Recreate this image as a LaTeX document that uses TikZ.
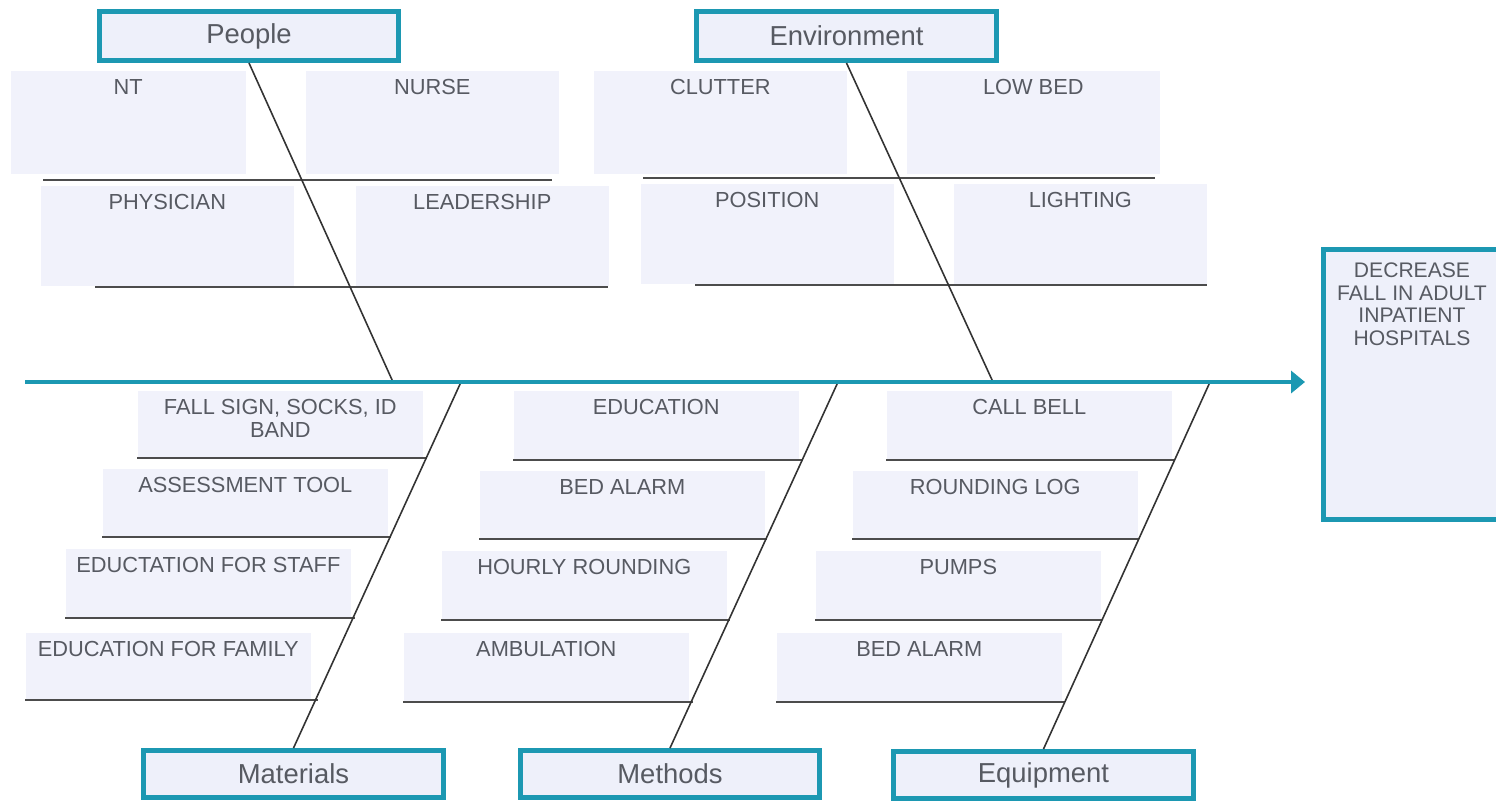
\documentclass[tikz,border=0pt]{standalone}
\usepackage{fontspec}
\setmainfont{Liberation Sans}
\usetikzlibrary{arrows.meta}

\definecolor{fishteal}{HTML}{1C98B2}
\definecolor{boxfill}{HTML}{EEF0FA}
\definecolor{labelgray}{HTML}{575A62}

\tikzset{
  cause/.style={draw=fishteal, line width=1.4pt, fill=boxfill, inner sep=0pt,
    minimum width=2.99cm, minimum height=0.49cm, text=labelgray,
    font=\fontsize{7.8}{9}\selectfont},
  topitem/.style={fill=boxfill!85, anchor=north west, inner sep=0pt,
    minimum width=2.53cm, minimum height=1.03cm},
  lowitem/.style={fill=boxfill!85, anchor=north west, inner sep=0pt,
    minimum width=2.85cm, minimum height=0.67cm},
  itemtext/.style={anchor=north, yshift=-0.09cm, inner sep=0pt, align=center,
    text=labelgray, font=\fontsize{6.2}{6.55}\selectfont},
  bone/.style={draw=black!80, line width=0.45pt},
  rib/.style={draw=black!70, line width=0.75pt},
  spine/.style={draw=fishteal, line width=1.1pt,
    -{Triangle[length=0.14cm,width=0.22cm]}}
}

\begin{document}
\begin{tikzpicture}[x=0.01cm, y=-0.01cm]
  \useasboundingbox[fill=white] (0,0) rectangle (1496,802);

  % head of the fish, open towards the right edge
  \node[fill=boxfill, minimum width=1.9cm, minimum height=2.68cm, inner sep=0pt]
    (effect) at (1419.5,384.5) {};
  \draw[fishteal, line width=1.4pt, line join=miter]
    (effect.north east) -- (effect.north west) -- (effect.south west) -- (effect.south east);
  \node[itemtext, yshift=-0.03cm, xshift=-0.075cm, font=\fontsize{6}{6.5}\selectfont]
    (effecttxt) at (effect.north) {DECREASE\\FALL IN ADULT\\INPATIENT\\HOSPITALS};

  % main categories
  \node[cause] (people) at (249,36) {People};
  \node[cause] (environment) at (846.5,36) {Environment};
  \node[cause, minimum height=0.47cm] (materials) at (293.5,774) {Materials};
  \node[cause, minimum height=0.47cm] (methods) at (670,774) {Methods};
  \node[cause, minimum height=0.47cm] (equipment) at (1043.5,775) {Equipment};

  % spine points
  \coordinate (tail) at (25,382);
  \coordinate (head) at (1305,382);
  \coordinate (s1) at (393,382);
  \coordinate (s2) at (993,382);
  \coordinate (s3) at (461,382);
  \coordinate (s4) at (838,382);
  \coordinate (s5) at (1210,382);

  % people
  \node[topitem, minimum width=2.35cm] (nt) at (10,70) {};
  \node[itemtext] at (nt.north) {NT};
  \node[topitem] (nurse) at (305,70) {};
  \node[itemtext] at (nurse.north) {NURSE};
  \node[topitem, minimum height=1cm] (physician) at (40,185) {};
  \node[itemtext] at (physician.north) {PHYSICIAN};
  \node[topitem, minimum height=1cm] (leadership) at (355,185) {};
  \node[itemtext] at (leadership.north) {LEADERSHIP};

  % environment
  \node[topitem] (clutter) at (593,70) {};
  \node[itemtext] at (clutter.north) {CLUTTER};
  \node[topitem] (lowbed) at (906,70) {};
  \node[itemtext] at (lowbed.north) {LOW BED};
  \node[topitem, minimum height=1cm] (position) at (640,183) {};
  \node[itemtext] at (position.north) {POSITION};
  \node[topitem, minimum height=1cm] (lighting) at (953,183) {};
  \node[itemtext] at (lighting.north) {LIGHTING};

  % materials
  \node[lowitem, minimum height=0.66cm] (fallsign) at (137,390) {};
  \node[itemtext] at (fallsign.north) {FALL SIGN, SOCKS, ID\\BAND};
  \node[lowitem] (assess) at (102,468) {};
  \node[itemtext] at (assess.north) {ASSESSMENT TOOL};
  \node[lowitem, minimum height=0.68cm] (edustaff) at (65,548) {};
  \node[itemtext] at (edustaff.north) {EDUCTATION FOR STAFF};
  \node[lowitem, minimum height=0.66cm] (edufamily) at (25,632) {};
  \node[itemtext] at (edufamily.north) {EDUCATION FOR FAMILY};

  % methods
  \node[lowitem, minimum height=0.68cm] (education) at (513,390) {};
  \node[itemtext] at (education.north) {EDUCATION};
  \node[lowitem] (bedalarmA) at (479,470) {};
  \node[itemtext] at (bedalarmA.north) {BED ALARM};
  \node[lowitem, minimum height=0.68cm] (hourly) at (441,550) {};
  \node[itemtext] at (hourly.north) {HOURLY ROUNDING};
  \node[lowitem, minimum height=0.68cm] (ambulation) at (403,632) {};
  \node[itemtext] at (ambulation.north) {AMBULATION};

  % equipment
  \node[lowitem, minimum height=0.68cm] (callbell) at (886,390) {};
  \node[itemtext] at (callbell.north) {CALL BELL};
  \node[lowitem] (roundlog) at (852,470) {};
  \node[itemtext] at (roundlog.north) {ROUNDING LOG};
  \node[lowitem, minimum height=0.68cm] (pumps) at (815,550) {};
  \node[itemtext] at (pumps.north) {PUMPS};
  \node[lowitem, minimum height=0.68cm] (bedalarmB) at (776,632) {};
  \node[itemtext] at (bedalarmB.north) {BED ALARM};

  % ribs
  \draw[rib] (43,180) -- (552,180);
  \draw[rib] (95,287) -- (608,287);
  \draw[rib] (643,178) -- (1155,178);
  \draw[rib] (695,285) -- (1207,285);
  \draw[rib] (137,458) -- (427,458);
  \draw[rib] (102,537) -- (391,537);
  \draw[rib] (65,618) -- (355,618);
  \draw[rib] (25,700) -- (318,700);
  \draw[rib] (513,460) -- (803,460);
  \draw[rib] (479,539) -- (767,539);
  \draw[rib] (441,620) -- (730,620);
  \draw[rib] (403,702) -- (693,702);
  \draw[rib] (886,460) -- (1175,460);
  \draw[rib] (852,539) -- (1139,539);
  \draw[rib] (815,620) -- (1102,620);
  \draw[rib] (776,702) -- (1065,702);

  % bones
  \draw[bone] (people.south) -- (s1);
  \draw[bone] (environment.south) -- (s2);
  \draw[bone] (materials.north) -- (s3);
  \draw[bone] (methods.north) -- (s4);
  \draw[bone] (equipment.north) -- (s5);

  \draw[spine] (tail) -- (head);
\end{tikzpicture}
\end{document}
